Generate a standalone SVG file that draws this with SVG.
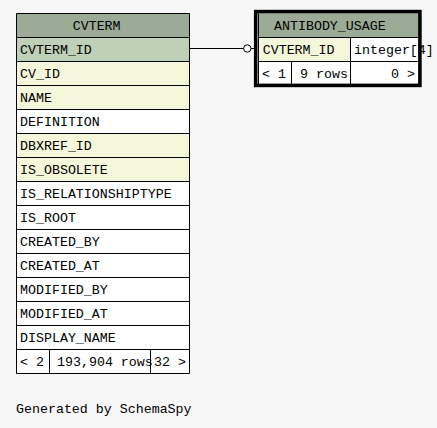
<svg xmlns="http://www.w3.org/2000/svg" width="437" height="428" viewBox="0 0 437 428">
<style>
text{font-family:"Liberation Mono","DejaVu Sans Mono",monospace;font-size:13.3px;fill:#000}
.h{fill:#9bab96}
.pk{fill:#bed1b8}
.ix{fill:#f4f7da}
.w{fill:#ffffff}
.g{stroke:#000;stroke-width:1;fill:none}
.conn{stroke:#000;stroke-width:1;fill:none}
</style>
<rect x="0" y="0" width="437" height="428" fill="#f7f7f7"/>
<g id="connectors">
<line class="conn" x1="190" y1="48.5" x2="243.5" y2="48.5"/>
<circle class="conn" cx="247.3" cy="48.5" r="3.7" fill="#f7f7f7"/>
<line class="conn" x1="251" y1="48.5" x2="255" y2="48.5"/>
</g>
<g id="CVTERM">
<rect class="h" x="16.5" y="13.5" width="173" height="24"/>
<rect class="pk" x="16.5" y="37.5" width="173" height="24"/>
<rect class="ix" x="16.5" y="61.5" width="173" height="48"/>
<rect class="w" x="16.5" y="109.5" width="173" height="24"/>
<rect class="ix" x="16.5" y="133.5" width="173" height="48"/>
<rect class="w" x="16.5" y="181.5" width="173" height="192"/>
<text x="72.7" y="29.5">CVTERM</text>
<text x="20" y="53.5">CVTERM_ID</text>
<text x="20" y="77.5">CV_ID</text>
<text x="20" y="101.5">NAME</text>
<text x="20" y="125.5">DEFINITION</text>
<text x="20" y="149.5">DBXREF_ID</text>
<text x="20" y="173.5">IS_OBSOLETE</text>
<text x="20" y="197.5">IS_RELATIONSHIPTYPE</text>
<text x="20" y="221.5">IS_ROOT</text>
<text x="20" y="245.5">CREATED_BY</text>
<text x="20" y="269.5">CREATED_AT</text>
<text x="20" y="293.5">MODIFIED_BY</text>
<text x="20" y="317.5">MODIFIED_AT</text>
<text x="20" y="341.5">DISPLAY_NAME</text>
<text x="20" y="365.5">&lt; 2</text>
<text x="57" y="365.5">193,904 rows</text>
<text x="186" y="365.5" text-anchor="end">32 &gt;</text>
<path class="g" d="M16.5 13.5H189.5V373.5H16.5Z M16.5 37.5H189.5 M16.5 61.5H189.5 M16.5 85.5H189.5 M16.5 109.5H189.5 M16.5 133.5H189.5 M16.5 157.5H189.5 M16.5 181.5H189.5 M16.5 205.5H189.5 M16.5 229.5H189.5 M16.5 253.5H189.5 M16.5 277.5H189.5 M16.5 301.5H189.5 M16.5 325.5H189.5 M16.5 349.5H189.5 M49.5 349.5V373.5 M150.5 349.5V373.5"/>
</g>
<g id="ANTIBODY_USAGE">
<rect class="h" x="258.5" y="13.5" width="160" height="24"/>
<rect class="ix" x="258.5" y="37.5" width="91.5" height="24"/>
<rect class="w" x="350" y="37.5" width="68.5" height="24"/>
<rect class="w" x="258.5" y="61.5" width="160" height="24"/>
<text x="274" y="29.5">ANTIBODY_USAGE</text>
<text x="262.7" y="53.5">CVTERM_ID</text>
<text x="354" y="53.5">integer[4]</text>
<text x="262" y="77.5">&lt; 1</text>
<text x="348" y="77.5" text-anchor="end">9 rows</text>
<text x="415" y="77.5" text-anchor="end">0 &gt;</text>
<path class="g" d="M258.5 13.5V85.5 M258.5 37.5H418.5 M258.5 61.5H418.5 M350.5 37.5V61.5 M291.5 61.5V85.5 M350.5 61.5V85.5"/>
<rect x="255.7" y="11.6" width="164.2" height="73.8" fill="none" stroke="#000" stroke-width="3.6"/>
</g>
<text x="16" y="413">Generated by SchemaSpy</text>
</svg>
